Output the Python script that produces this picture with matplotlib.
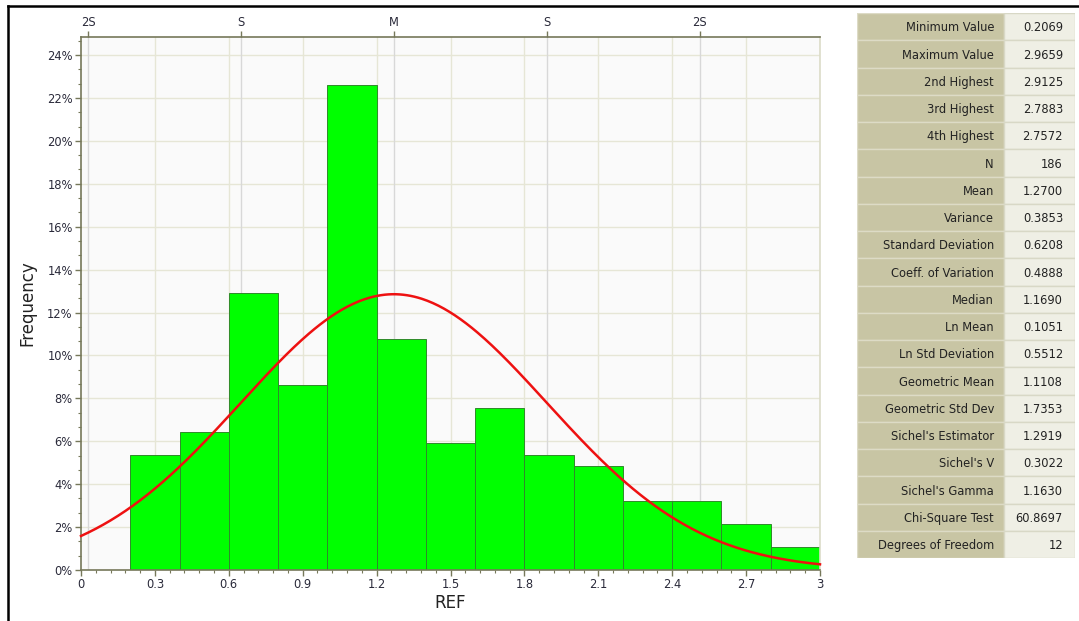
import numpy as np
import matplotlib
matplotlib.use("Agg")
import matplotlib.pyplot as plt
from matplotlib.ticker import MultipleLocator, FixedLocator
from matplotlib.patches import Rectangle
from matplotlib.lines import Line2D

# ---- data ----
bin_left = [0.2, 0.4, 0.6, 0.8, 1.0, 1.2, 1.4, 1.6, 1.8, 2.0, 2.2, 2.4, 2.6, 2.8]
bin_width = 0.2
freq_pct = [5.38, 6.45, 12.90, 8.60, 22.58, 10.75, 5.91, 7.53, 5.38, 4.84, 3.23, 3.23, 2.15, 1.08]
mean_val = 1.2700
sd_val = 0.6208
top_labels = ["2S", "S", "M", "S", "2S"]
top_mult = [-2, -1, 0, 1, 2]

stat_names = ["Minimum Value", "Maximum Value", "2nd Highest", "3rd Highest", "4th Highest",
              "N", "Mean", "Variance", "Standard Deviation", "Coeff. of Variation",
              "Median", "Ln Mean", "Ln Std Deviation", "Geometric Mean", "Geometric Std Dev",
              "Sichel's Estimator", "Sichel's V", "Sichel's Gamma", "Chi-Square Test",
              "Degrees of Freedom"]
stat_values = ["0.2069", "2.9659", "2.9125", "2.7883", "2.7572", "186", "1.2700", "0.3853",
               "0.6208", "0.4888", "1.1690", "0.1051", "0.5512", "1.1108", "1.7353",
               "1.2919", "0.3022", "1.1630", "60.8697", "12"]

W, H = 1079, 621
fig = plt.figure(figsize=(W / 100, H / 100), dpi=100)
fig.patch.set_facecolor("white")

def fx(px):
    return px / W

def fy(py):
    return 1 - py / H

ax_l, ax_r, ax_t, ax_b = 81, 820, 37, 570
ax = fig.add_axes([fx(ax_l), fy(ax_b), fx(ax_r - ax_l), (ax_b - ax_t) / H])
ax.set_facecolor("#fafafa")

olive = "#76785a"
grid_c = "#e6e6d6"
txt_c = "#2a2a3a"

ax.set_xlim(0, 3)
ax.set_ylim(0, 24.84)

# grid
for v in np.arange(0.3, 3.01, 0.3):
    ax.axvline(v, color=grid_c, lw=1.0, zorder=0)
for v in range(2, 25, 2):
    ax.axhline(v, color=grid_c, lw=1.0, zorder=0)
for m in top_mult:
    ax.axvline(mean_val + m * sd_val, color="#d8d8d8", lw=1.0, zorder=0.5)

# bars
ax.bar(bin_left, freq_pct, width=bin_width, align="edge", color="#00ff00",
       edgecolor="#2f8a2a", linewidth=0.7, zorder=2)

# normal curve
xs = np.linspace(0, 3, 400)
ys = bin_width * 100 / (sd_val * np.sqrt(2 * np.pi)) * np.exp(-0.5 * ((xs - mean_val) / sd_val) ** 2)
ax.plot(xs, ys, color="#ee1111", lw=1.8, zorder=3, clip_on=False)

# ticks
ax.xaxis.set_major_locator(FixedLocator([0, 0.3, 0.6, 0.9, 1.2, 1.5, 1.8, 2.1, 2.4, 2.7, 3.0]))
ax.set_xticklabels(["0", "0.3", "0.6", "0.9", "1.2", "1.5", "1.8", "2.1", "2.4", "2.7", "3"])
ax.xaxis.set_minor_locator(MultipleLocator(0.06))
ax.yaxis.set_major_locator(MultipleLocator(2))
ax.yaxis.set_minor_locator(MultipleLocator(2 / 3))
ax.set_yticklabels([f"{int(v)}%" for v in ax.get_yticks()])
ax.tick_params(axis="both", which="major", direction="out", length=4, width=1,
               color=olive, labelsize=8.3, labelcolor=txt_c, pad=2)
ax.tick_params(axis="both", which="minor", direction="out", length=2.5, width=0.8, color=olive)

for s in ["left", "bottom", "top"]:
    ax.spines[s].set_color(olive)
    ax.spines[s].set_linewidth(1.2)
ax.spines["right"].set_color("#dcdcc8")
ax.spines["right"].set_linewidth(1.2)

ax.set_xlabel("REF", fontsize=12, color="#222222", labelpad=2)
ax.set_ylabel("Frequency", fontsize=12, color="#222222", labelpad=8)

# top axis
axt = ax.twiny()
axt.set_xlim(ax.get_xlim())
axt.set_xticks([mean_val + m * sd_val for m in top_mult])
axt.set_xticklabels(top_labels)
axt.tick_params(axis="x", direction="out", length=4, width=1, color=olive,
                labelsize=8.3, labelcolor=txt_c, pad=2)
for s in axt.spines.values():
    s.set_visible(False)

# stats table
t_l, t_r, t_t, t_b = 857, 1075, 13, 558
tax = fig.add_axes([fx(t_l), fy(t_b), fx(t_r - t_l), (t_b - t_t) / H])
tax.set_xlim(0, t_r - t_l)
n = len(stat_names)
tax.set_ylim(n, 0)
tax.axis("off")
split = 1004 - t_l
for i, (nm, val) in enumerate(zip(stat_names, stat_values)):
    tax.add_patch(Rectangle((0, i), split, 1, facecolor="#c8c5a4", edgecolor="#dddbc6", lw=1))
    tax.add_patch(Rectangle((split, i), (t_r - t_l) - split, 1, facecolor="#efefe5",
                            edgecolor="#d8d8c6", lw=1))
    tax.text(split - 10, i + 0.55, nm, ha="right", va="center", fontsize=8.3, color="#222222")
    tax.text((t_r - t_l) - 12, i + 0.55, val, ha="right", va="center", fontsize=8.3, color="#222222")

# window frame
fig.add_artist(Line2D([fx(8), 1], [fy(6), fy(6)], color="black", lw=1.8))
fig.add_artist(Line2D([fx(8), fx(8)], [fy(6), 0], color="black", lw=1.8))

fig.savefig("out.png", dpi=100)
